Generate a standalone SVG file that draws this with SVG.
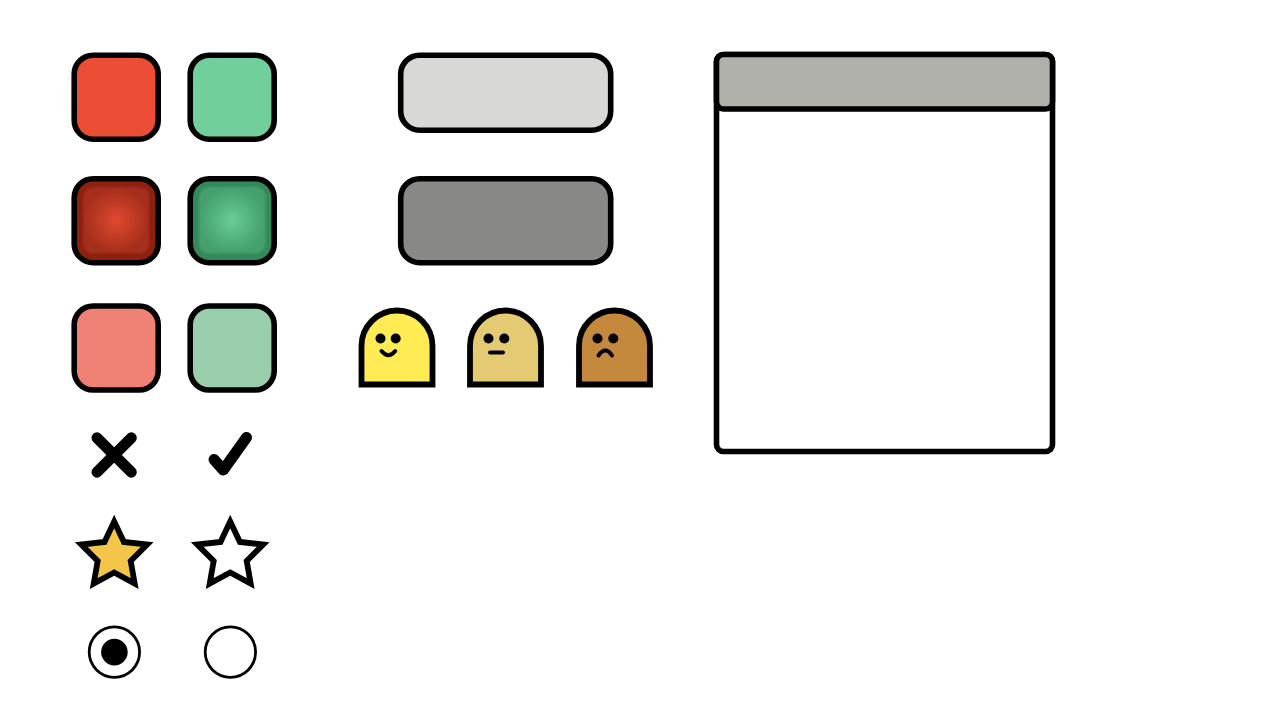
<svg xmlns="http://www.w3.org/2000/svg" width="1275" height="715" viewBox="0 0 1275 715">
<style>
.s{stroke:#000;stroke-width:5.600;stroke-linejoin:round}
.t{stroke:#000;stroke-width:5.800;stroke-linejoin:miter;stroke-miterlimit:10}
.l{fill:none;stroke:#000;stroke-linecap:round;stroke-linejoin:round}
</style>
<defs>
<radialGradient id="gr"><stop offset="0" stop-color="#e2492f"/><stop offset="0.5" stop-color="#c23c26"/><stop offset="1" stop-color="#a52e1b"/></radialGradient>
<radialGradient id="gg"><stop offset="0" stop-color="#6dcd98"/><stop offset="0.5" stop-color="#55b581"/><stop offset="1" stop-color="#45a06e"/></radialGradient>
<filter id="b" x="-10%" y="-10%" width="120%" height="120%"><feGaussianBlur stdDeviation="1"/></filter>
<path id="star" d="M0-31.500L9.700-11L33-8.500L16.500 8L20.500 30.500L0 19.500L-20.500 30.500L-16.500 8L-33-8.500L-9.700-11Z"/>
<path id="blob" d="M-35.500 37.500V-1A35.500 35.500 0 0 1 35.500-1V37.500Z"/>
</defs>
<g id="red-normal"><rect class="s" x="74.200" y="55.200" width="84" height="84" rx="19" fill="#eb4e34"/></g>
<g id="green-normal"><rect class="s" x="190.200" y="55.200" width="84" height="84" rx="19" fill="#70cf9a"/></g>
<g id="red-pressed"><rect class="s" x="74.200" y="178.700" width="84" height="84" rx="19" fill="#8c2110"/><rect x="83" y="187" width="66.500" height="66.500" rx="10" fill="url(#gr)" filter="url(#b)"/></g>
<g id="green-pressed"><rect class="s" x="190.200" y="178.700" width="84" height="84" rx="19" fill="#33895a"/><rect x="199" y="187" width="66.500" height="66.500" rx="10" fill="url(#gg)" filter="url(#b)"/></g>
<g id="red-faded"><rect class="s" x="74.200" y="306" width="84" height="84" rx="19" fill="#ef8274"/></g>
<g id="green-faded"><rect class="s" x="190.200" y="306" width="84" height="84" rx="19" fill="#98ceab"/></g>
<g id="button-light"><rect class="s" x="400.700" y="55.200" width="210" height="75" rx="19" fill="#d8d8d6"/></g>
<g id="button-dark"><rect class="s" x="400.700" y="178.700" width="210" height="84" rx="19" fill="#888886"/></g>
<g id="face-happy" transform="translate(397 347)"><use href="#blob" class="t" fill="#ffec55"/><circle cx="-16.500" cy="-8.500" r="5"/><circle cx="-1.300" cy="-8.500" r="5"/><path class="l" stroke-width="4" d="M-15.500 4Q-8.500 12.500-1.800 4"/></g>
<g id="face-neutral" transform="translate(505.500 347)"><use href="#blob" class="t" fill="#e4ca73"/><circle cx="-17" cy="-8.500" r="5"/><circle cx="-1.200" cy="-8.500" r="5"/><path class="l" stroke-width="4" d="M-15.500 5.500H-2.500"/></g>
<g id="face-sad" transform="translate(614.500 347)"><use href="#blob" class="t" fill="#c4893c"/><circle cx="-17" cy="-8.500" r="5"/><circle cx="-1.200" cy="-8.500" r="5"/><path class="l" stroke-width="4" d="M-16 8.500Q-9-1.500-2.500 8.500"/></g>
<g id="window"><rect class="s" x="716.500" y="54.500" width="336" height="397" rx="7" fill="#fff"/><rect class="s" x="716.500" y="54.500" width="336" height="54.500" rx="7" fill="#b0b0ab"/></g>
<g id="cross"><path class="l" stroke-width="11" d="M97 437.800L131.300 472.200M131.300 437.800L97 472.200"/></g>
<g id="check"><path class="l" stroke-width="11" d="M214 459.500L223.300 470L246.500 437.500"/></g>
<g id="star-filled" transform="translate(114.200 553)"><use href="#star" class="t" fill="#f3c548"/></g>
<g id="star-empty" transform="translate(230.200 553)"><use href="#star" class="t" fill="#fff"/></g>
<g id="radio-on"><circle cx="114.400" cy="652.100" r="25.200" fill="#fff" stroke="#000" stroke-width="2.800"/><circle cx="114.400" cy="652.100" r="13.300"/></g>
<g id="radio-off"><circle cx="230.400" cy="652.100" r="25.200" fill="#fff" stroke="#000" stroke-width="2.800"/></g>
<g id="connectors"></g>
</svg>
